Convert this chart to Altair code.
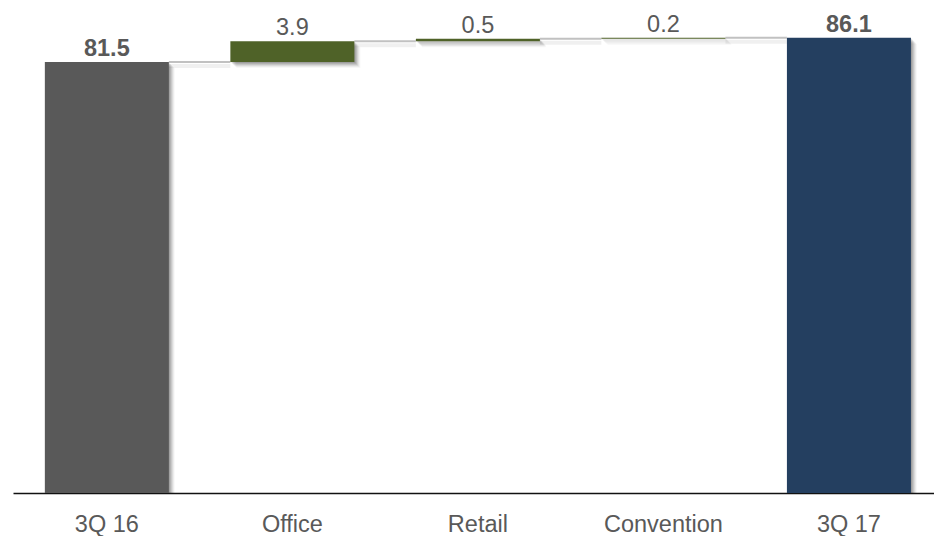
import altair as alt
import pandas as pd

# Waterfall: 3Q 16 total, segment changes, 3Q 17 total
categories = ["3Q 16", "Office", "Retail", "Convention", "3Q 17"]
values = [81.5, 3.9, 0.5, 0.2, 86.1]
kinds = ["total", "delta", "delta", "delta", "total"]
label_text = ["81.5", "3.9", "0.5", "0.2", "86.1"]
bar_colors = ["#595959", "#4F6228", "#4F6228", "#4F6228", "#243F60"]

rows = []
running = 0.0
for cat, val, kind, lab, col in zip(categories, values, kinds, label_text, bar_colors):
    if kind == "total":
        start, end = 0.0, val
    else:
        start, end = running, running + val
    running = end
    rows.append({"cat": cat, "start": start, "end": end, "kind": kind,
                 "label": lab, "color": col})
bars = pd.DataFrame(rows)

# connectors sit in the gap right of each bar, at that bar's closing level
links = pd.DataFrame({
    "cat": categories[:-1],
    "level": [r["end"] for r in rows[:-1]],
})

BAR_W = 124      # bar width in px
GAP_W = 61.5     # gap between neighbouring bars in px

x_scale = alt.Scale(domain=categories, paddingInner=0.3315,
                    paddingOuter=0.148, align=0.58)
y_scale = alt.Scale(domain=[0, 90], nice=False, zero=True)

x_axis = alt.Axis(title=None, labelAngle=0, ticks=False,
                  labelAlign="center", bandPosition=0.5,
                  labelFont="Liberation Sans", labelFontSize=23.5,
                  labelColor="#595959", labelBaseline="alphabetic",
                  labelPadding=38, domainColor="#111111",
                  domainWidth=1.6, grid=False)
x_enc = alt.X("cat:N", scale=x_scale, axis=x_axis)
y_enc = alt.Y("end:Q", scale=y_scale, axis=None)
link_y = alt.Y("level:Q", scale=y_scale, axis=None)

base = alt.Chart(bars)

# soft drop shadow below and right of each bar
shadow_layers = []
for k, op in [(1, 0.10), (2, 0.10), (3, 0.09), (4, 0.07), (5, 0.05), (6, 0.03)]:
    shadow_layers.append(
        base.mark_bar(color="#000000", opacity=op, xOffset=k,
                      yOffset=k, y2Offset=k, clip=True)
        .encode(x=x_enc, y=y_enc, y2="start:Q")
    )

link_shadow = alt.Chart(links).mark_tick(
    color="#000000", opacity=0.06, thickness=4, size=GAP_W,
    xOffset=BAR_W / 2 + GAP_W / 2, yOffset=4
).encode(x=x_enc, y=link_y)

link_layer = alt.Chart(links).mark_tick(
    color="#A6A6A6", thickness=2, size=GAP_W,
    xOffset=BAR_W / 2 + GAP_W / 2
).encode(x=x_enc, y=link_y)

bar_layer = base.mark_bar().encode(
    x=x_enc,
    y=y_enc,
    y2="start:Q",
    color=alt.Color("color:N", scale=None, legend=None),
)

total_labels = base.transform_filter(alt.datum.kind == "total").mark_text(
    font="Liberation Sans", fontSize=23.5, fontWeight="bold",
    color="#595959", baseline="alphabetic", dy=-6
).encode(x=x_enc, y=y_enc, text="label:N")

delta_labels = base.transform_filter(alt.datum.kind == "delta").mark_text(
    font="Liberation Sans", fontSize=23.5, color="#595959",
    baseline="alphabetic", dy=-6
).encode(x=x_enc, y=y_enc, text="label:N")

chart = alt.layer(
    *shadow_layers, link_shadow, link_layer, bar_layer,
    total_labels, delta_labels
).properties(
    width=921,
    height=476,
    autosize=alt.AutoSizeParams(type="none"),
    padding={"left": 13, "top": 17, "right": 0, "bottom": 43},
    background="white",
).configure_view(stroke=None)

chart.save("out.html", embed_options={"renderer": "svg", "actions": False})
